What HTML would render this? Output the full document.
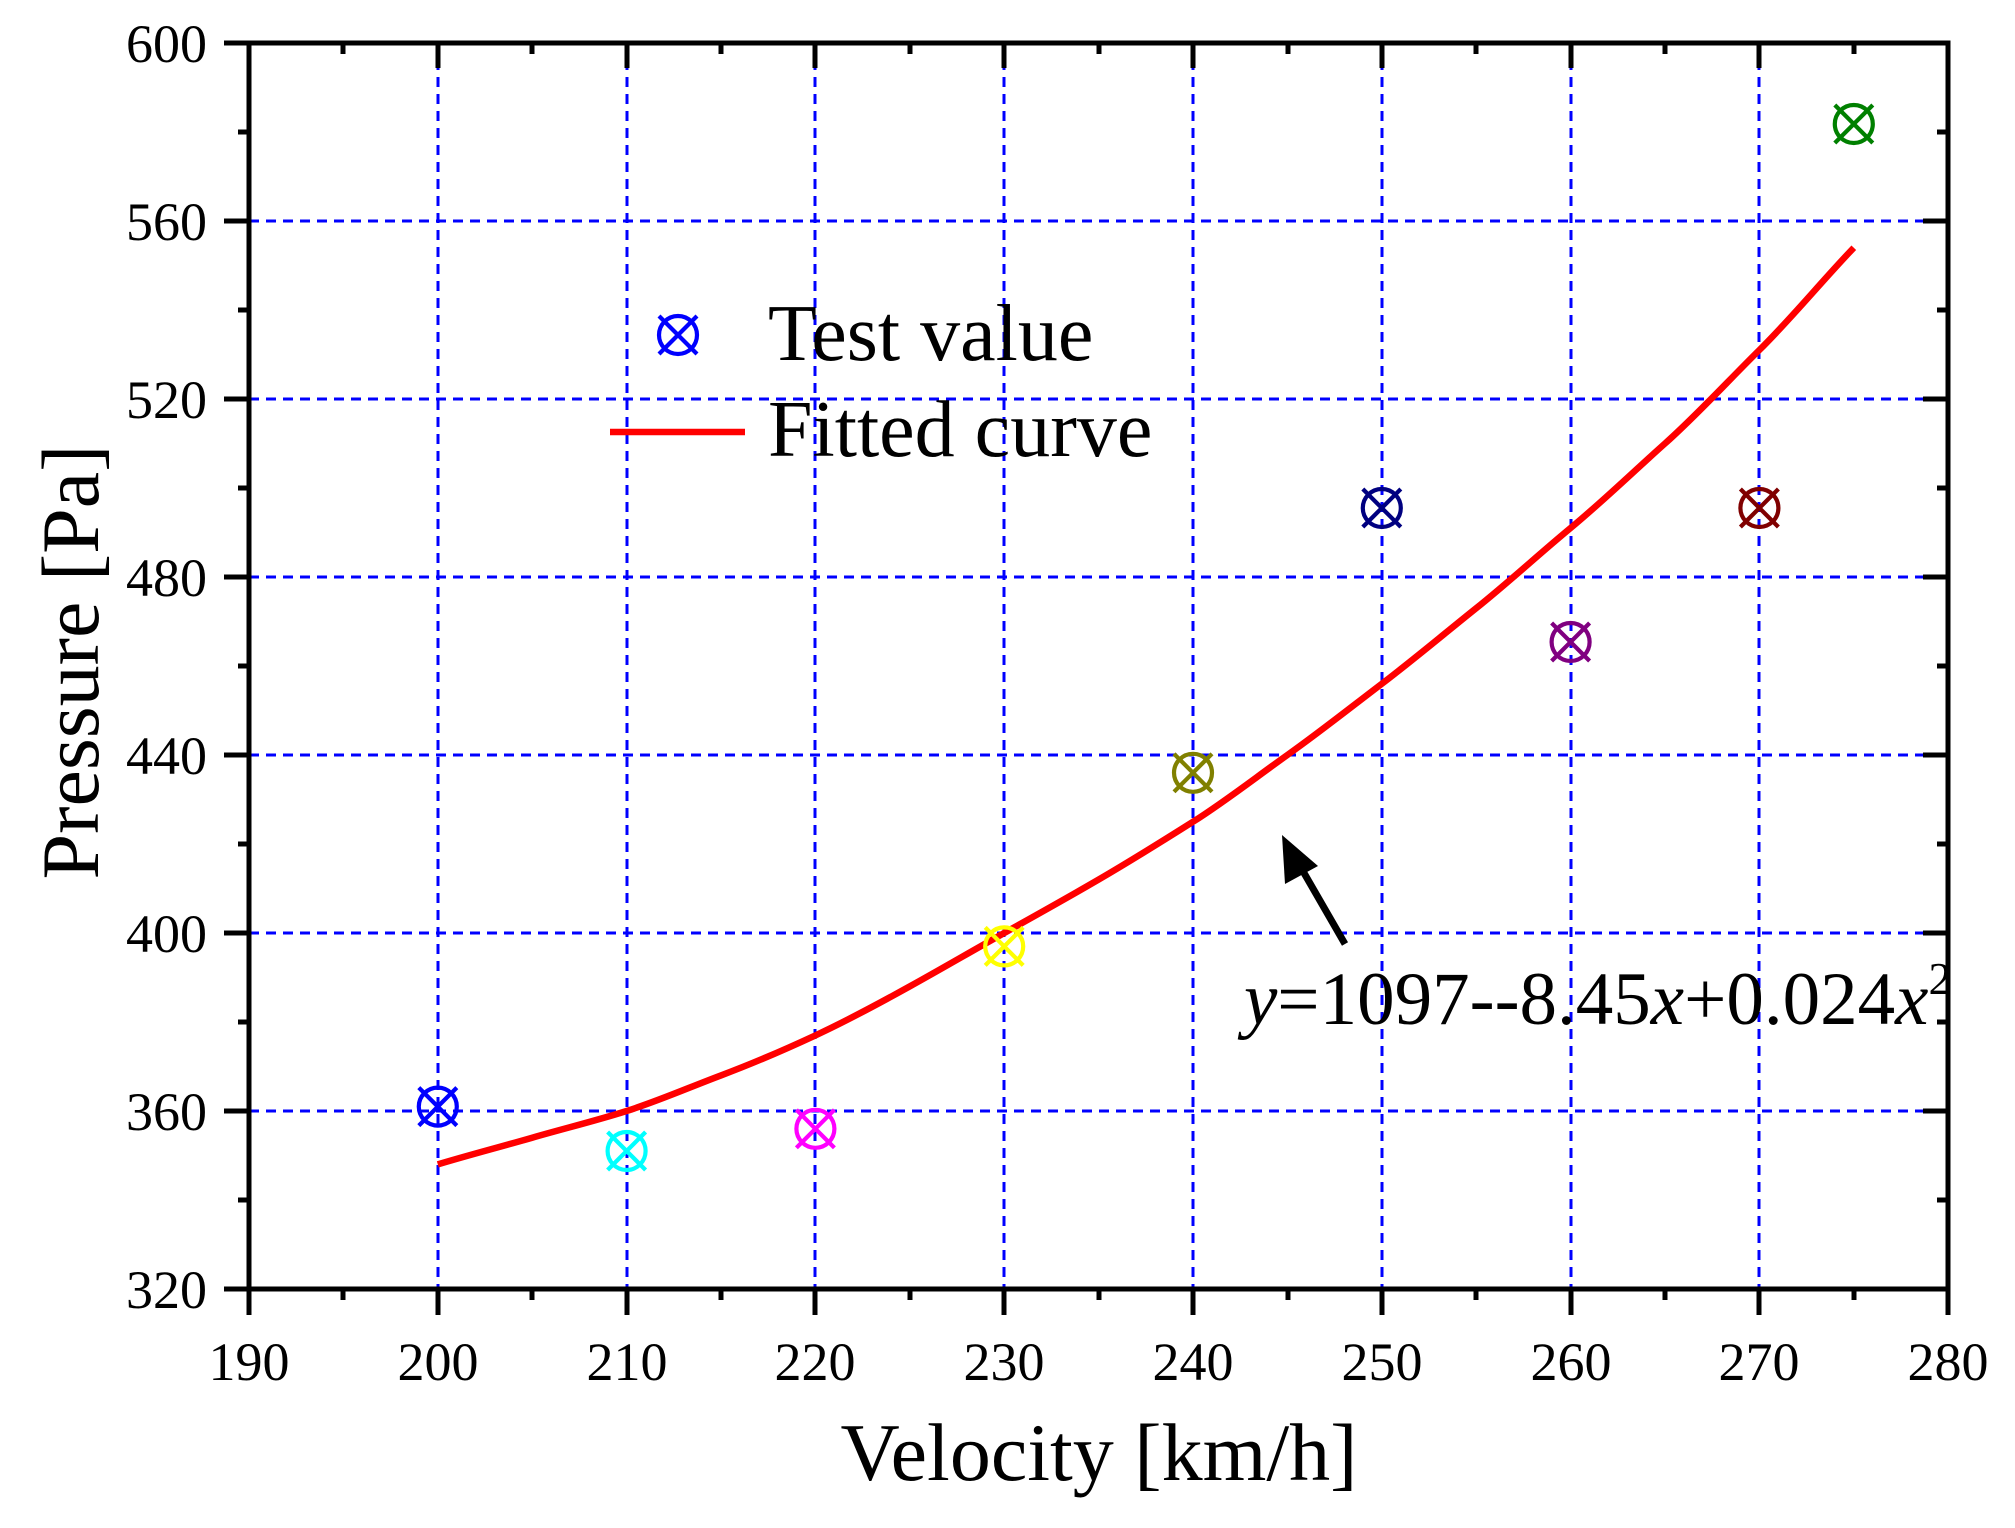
<!DOCTYPE html>
<html><head><meta charset="utf-8"><style>body{margin:0;background:#fff}svg{display:block}</style></head><body>
<svg width="2015" height="1528" viewBox="0 0 2015 1528" xmlns="http://www.w3.org/2000/svg" font-family="'Liberation Serif', serif">
<g stroke="#0000ff" stroke-width="3" stroke-dasharray="10,7" fill="none">
<line x1="438" y1="43" x2="438" y2="1289"/><line x1="627" y1="43" x2="627" y2="1289"/><line x1="815" y1="43" x2="815" y2="1289"/><line x1="1004" y1="43" x2="1004" y2="1289"/><line x1="1193" y1="43" x2="1193" y2="1289"/><line x1="1382" y1="43" x2="1382" y2="1289"/><line x1="1571" y1="43" x2="1571" y2="1289"/><line x1="1759" y1="43" x2="1759" y2="1289"/>
<line x1="249" y1="221" x2="1948" y2="221"/><line x1="249" y1="399" x2="1948" y2="399"/><line x1="249" y1="577" x2="1948" y2="577"/><line x1="249" y1="755" x2="1948" y2="755"/><line x1="249" y1="933" x2="1948" y2="933"/><line x1="249" y1="1111" x2="1948" y2="1111"/>
</g>
<path fill="none" stroke="#ff0000" stroke-width="6.5" stroke-linejoin="round" d="M437.8,1164.4 C469,1155 500,1147 532.2,1137.7 S595,1121 626.6,1111 S690,1087 721,1075.4 S784,1050 815.4,1035.4 S878,1004 909.8,986.4 S972,951 1004.2,933 S1067,898 1098.6,879.6 S1161,842 1193,821.8 S1255,778 1287.4,755 S1350,708 1381.8,683.8 S1444,634 1476.2,608.2 S1538,555 1570.6,528 S1633,472 1665,443.5 S1727,382 1759.4,350 S1821,282 1853.8,247.7"/>
<g fill="none" stroke-width="4.2">
<g stroke="#0000ff" transform="translate(437.8,1106.6)"><circle r="19"/><path d="M-19,-19L19,19M-19,19L19,-19"/></g>
<g stroke="#00ffff" transform="translate(626.6,1151)"><circle r="19"/><path d="M-19,-19L19,19M-19,19L19,-19"/></g>
<g stroke="#ff00ff" transform="translate(815.4,1128.8)"><circle r="19"/><path d="M-19,-19L19,19M-19,19L19,-19"/></g>
<g stroke="#ffff00" transform="translate(1004.2,946.4)"><circle r="19"/><path d="M-19,-19L19,19M-19,19L19,-19"/></g>
<g stroke="#808000" transform="translate(1193,772.8)"><circle r="19"/><path d="M-19,-19L19,19M-19,19L19,-19"/></g>
<g stroke="#000080" transform="translate(1381.8,508)"><circle r="19"/><path d="M-19,-19L19,19M-19,19L19,-19"/></g>
<g stroke="#800080" transform="translate(1570.6,642)"><circle r="19"/><path d="M-19,-19L19,19M-19,19L19,-19"/></g>
<g stroke="#800000" transform="translate(1759.4,508)"><circle r="19"/><path d="M-19,-19L19,19M-19,19L19,-19"/></g>
<g stroke="#008000" transform="translate(1853.8,124)"><circle r="19"/><path d="M-19,-19L19,19M-19,19L19,-19"/></g>
<g stroke="#0000ff" transform="translate(678,335)"><circle r="19"/><path d="M-19,-19L19,19M-19,19L19,-19"/></g>
</g>
<line x1="610" y1="432" x2="745" y2="432" stroke="#ff0000" stroke-width="6.5"/>
<text x="768" y="360" font-size="80">Test value</text>
<text x="768" y="456" font-size="80">Fitted curve</text>
<text x="1244" y="1024" font-size="75"><tspan font-style="italic">y</tspan>=1097--8.45<tspan font-style="italic">x</tspan>+0.024<tspan font-style="italic">x</tspan><tspan font-size="46" dy="-30">2</tspan></text>
<line x1="1345" y1="944" x2="1300" y2="866" stroke="#000" stroke-width="7"/>
<polygon points="1282,835 1318,866 1285,884" fill="#000"/>
<rect x="249" y="43" width="1699" height="1246" fill="none" stroke="#000" stroke-width="5"/>
<g stroke="#000" stroke-width="5">
<path d="M249,1289v26M438,1289v26M627,1289v26M815,1289v26M1004,1289v26M1193,1289v26M1382,1289v26M1571,1289v26M1759,1289v26M1948,1289v26"/>
<path d="M343,1289v11M532,1289v11M721,1289v11M910,1289v11M1099,1289v11M1288,1289v11M1476,1289v11M1665,1289v11M1854,1289v11"/>
<path d="M438,43v25M627,43v25M815,43v25M1004,43v25M1193,43v25M1382,43v25M1571,43v25M1759,43v25"/>
<path d="M343,43v11M532,43v11M721,43v11M910,43v11M1099,43v11M1288,43v11M1476,43v11M1665,43v11M1854,43v11"/>
<path d="M224,43h25M224,221h25M224,399h25M224,577h25M224,755h25M224,933h25M224,1111h25M224,1289h25"/>
<path d="M238,132h11M238,310h11M238,488h11M238,666h11M238,844h11M238,1022h11M238,1200h11"/>
<path d="M1923,221h25M1923,399h25M1923,577h25M1923,755h25M1923,933h25M1923,1111h25"/>
<path d="M1937,132h11M1937,310h11M1937,488h11M1937,666h11M1937,844h11M1937,1022h11M1937,1200h11"/>
</g>
<g font-size="54" text-anchor="middle">
<text x="249" y="1380">190</text><text x="438" y="1380">200</text><text x="627" y="1380">210</text><text x="815" y="1380">220</text><text x="1004" y="1380">230</text><text x="1193" y="1380">240</text><text x="1382" y="1380">250</text><text x="1571" y="1380">260</text><text x="1759" y="1380">270</text><text x="1948" y="1380">280</text>
</g>
<g font-size="54" text-anchor="end">
<text x="207" y="62">600</text><text x="207" y="240">560</text><text x="207" y="418">520</text><text x="207" y="596">480</text><text x="207" y="774">440</text><text x="207" y="952">400</text><text x="207" y="1130">360</text><text x="207" y="1308">320</text>
</g>
<text x="1099" y="1480" font-size="82" text-anchor="middle">Velocity [km/h]</text>
<text transform="translate(98,662) rotate(-90)" font-size="82" text-anchor="middle">Pressure [Pa]</text>
</svg>
</body></html>
